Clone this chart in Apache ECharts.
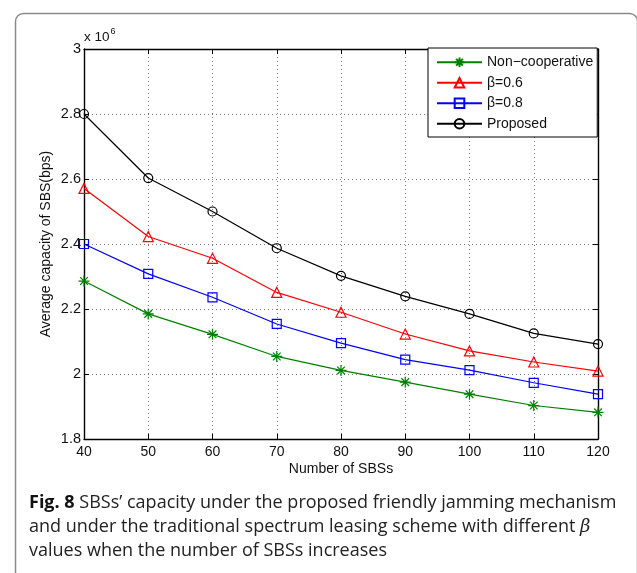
<!DOCTYPE html>
<html>
<head>
<meta charset="utf-8">
<script src="https://cdn.jsdelivr.net/npm/echarts@6/dist/echarts.min.js"></script>
<style>
html,body{margin:0;padding:0;background:#fff;}
#c{width:637px;height:573px;}
</style>
</head>
<body>
<div id="c"></div>
<script>
const sbsCounts = [40, 50, 60, 70, 80, 90, 100, 110, 120];
const nonCooperative = [2.286, 2.185, 2.122, 2.054, 2.011, 1.975, 1.938, 1.903, 1.882];
const beta06 = [2.571, 2.423, 2.356, 2.251, 2.190, 2.123, 2.071, 2.037, 2.009];
const beta08 = [2.400, 2.308, 2.236, 2.154, 2.095, 2.044, 2.012, 1.973, 1.938];
const proposed = [2.800, 2.603, 2.500, 2.387, 2.302, 2.239, 2.185, 2.125, 2.092];
const seriesNames = ['Non\u2212cooperative', '\u03b2=0.6', '\u03b2=0.8', 'Proposed'];
const yTicks = [1.8, 2, 2.2, 2.4, 2.6, 2.8, 3];
const xTicks = [40, 50, 60, 70, 80, 90, 100, 110, 120];

const FONT = 'Liberation Sans';
const pair = arr => sbsCounts.map((x, i) => [x, arr[i]]);
const asterisk = 'path://M5,0L5,10M0,5L10,5M1.5,1.5L8.5,8.5M1.5,8.5L8.5,1.5';

function mk(name, data, color, symbol, size) {
  return {
    name, type: 'line', data: pair(data),
    symbol, symbolSize: size, showAllSymbol: true,
    lineStyle: { color, width: 1.2 },
    itemStyle: { color: 'transparent', borderColor: color, borderWidth: 1.2 },
    emphasis: { disabled: true },
    animation: false
  };
}

const chart = echarts.init(document.getElementById('c'), null, { renderer: 'canvas' });
const axisCommon = {
  type: 'value',
  axisLine: { show: true, onZero: false, lineStyle: { color: '#000', width: 1.4 } },
  axisTick: { show: true, inside: true, length: 5, lineStyle: { color: '#000', width: 1 } },
  splitLine: { show: false }
};
chart.setOption({
  animation: false,
  grid: { left: 84, right: 39, top: 49, bottom: 134, containLabel: false },
  xAxis: [
    Object.assign({}, axisCommon, {
      min: xTicks[0], max: xTicks[xTicks.length - 1], interval: 10,
      name: 'Number of SBSs', nameLocation: 'middle', nameGap: 23, nameMoveOverlap: false,
      nameTextStyle: { fontFamily: FONT, fontSize: 14, color: '#111' },
      axisLabel: { fontFamily: FONT, fontSize: 14, color: '#111', margin: 6 },
      splitLine: { show: true, lineStyle: { color: '#777', type: [1, 3], width: 1 } }
    }),
    Object.assign({}, axisCommon, {
      position: 'top', min: xTicks[0], max: xTicks[xTicks.length - 1], interval: 10,
      axisLabel: { show: false }
    })
  ],
  yAxis: [
    Object.assign({}, axisCommon, {
      min: yTicks[0], max: yTicks[yTicks.length - 1], interval: 0.2,
      name: 'Average capacity of SBS(bps)', nameLocation: 'middle', nameGap: 31, nameMoveOverlap: false,
      nameTextStyle: { fontFamily: FONT, fontSize: 14, color: '#111' },
      axisLabel: { fontFamily: FONT, fontSize: 14.5, color: '#111', margin: 3,
        formatter: v => String(Math.round(v * 10) / 10) },
      splitLine: { show: true, lineStyle: { color: '#777', type: [1, 3], width: 1 } }
    }),
    Object.assign({}, axisCommon, {
      position: 'right', min: yTicks[0], max: yTicks[yTicks.length - 1], interval: 0.2,
      axisLabel: { show: false }
    })
  ],
  legend: {
    orient: 'vertical', left: 428, top: 48,
    padding: [7, 4, 6, 8], itemGap: 6, itemWidth: 45, itemHeight: 12,
    backgroundColor: '#fff', borderColor: '#000', borderWidth: 1,
    textStyle: { fontFamily: FONT, fontSize: 14, color: '#111', lineHeight: 14.5 },
    data: seriesNames
  },
  series: [
    mk(seriesNames[0], nonCooperative, '#008000', asterisk, 11),
    mk(seriesNames[1], beta06, '#ff0000', 'triangle', 10),
    mk(seriesNames[2], beta08, '#0000ff', 'rect', 9),
    mk(seriesNames[3], proposed, '#000000', 'circle', 9)
  ],
  graphic: [
    { type: 'rect', left: 13, top: 11, z: -10,
      shape: { x: 0, y: 0, width: 622, height: 620, r: 8 },
      style: { fill: 'none', stroke: '#8a8a8a', lineWidth: 1.5 } },
    { type: 'text', left: 84, top: 27,
      style: { text: '{a|x 10}{s|6}', rich: {
        a: { fontFamily: FONT, fontSize: 13.5, fill: '#111', verticalAlign: 'bottom', lineHeight: 17 },
        s: { fontFamily: FONT, fontSize: 9, fill: '#111', verticalAlign: 'top', lineHeight: 17, padding: [0, 0, 9, 1] }
      } } },
    { type: 'text', left: 29, top: 491,
      style: { text: '{b|Fig. 8} SBSs\u2019 capacity under the proposed friendly jamming mechanism\nand under the traditional spectrum leasing scheme with different {i|\u03b2}\nvalues when the number of SBSs increases',
        fontFamily: 'Open Sans', fontSize: 18, fill: '#222', lineHeight: 24,
        rich: {
          b: { fontFamily: 'Open Sans', fontWeight: 'bold', fontSize: 18, fill: '#111', lineHeight: 24 },
          i: { fontFamily: 'DejaVu Serif', fontStyle: 'italic', fontSize: 18, fill: '#222', lineHeight: 24 }
        } } }
  ]
});
</script>
</body>
</html>
